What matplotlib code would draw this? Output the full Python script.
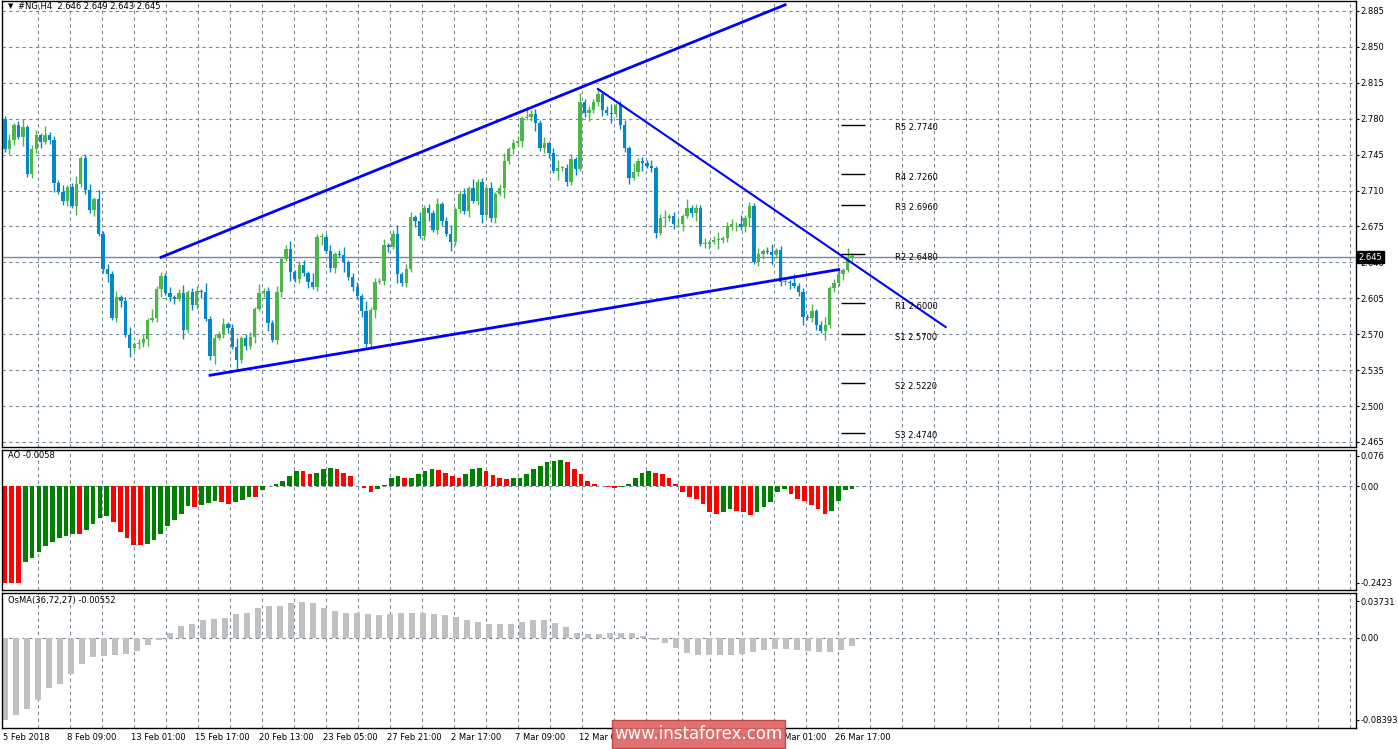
import matplotlib
matplotlib.use("Agg")
import matplotlib.pyplot as plt
import numpy as np

# closes of H4 candles
closes = [2.750, 2.759, 2.774, 2.762, 2.772, 2.726, 2.750, 2.764, 2.757, 2.764, 2.759, 2.717,
          2.709, 2.700, 2.713, 2.695, 2.716, 2.742, 2.711, 2.691, 2.702, 2.668, 2.634, 2.629,
          2.586, 2.606, 2.602, 2.569, 2.557, 2.560, 2.561, 2.565, 2.584, 2.586, 2.614, 2.627,
          2.610, 2.606, 2.604, 2.610, 2.574, 2.611, 2.598, 2.612, 2.611, 2.585, 2.549, 2.566,
          2.570, 2.580, 2.576, 2.558, 2.545, 2.566, 2.559, 2.567, 2.595, 2.610, 2.612, 2.581,
          2.564, 2.611, 2.643, 2.653, 2.631, 2.624, 2.637, 2.630, 2.621, 2.616, 2.665, 2.665,
          2.651, 2.635, 2.648, 2.647, 2.640, 2.626, 2.616, 2.607, 2.593, 2.560, 2.594, 2.621,
          2.622, 2.657, 2.655,
          2.668, 2.629, 2.620, 2.634, 2.684, 2.680, 2.666, 2.693, 2.688, 2.672, 2.697, 2.680,
          2.668, 2.660, 2.692, 2.707, 2.690, 2.712, 2.700, 2.718, 2.686, 2.712, 2.683, 2.707,
          2.712, 2.739, 2.750, 2.756, 2.758, 2.781, 2.782, 2.785, 2.776, 2.751, 2.756, 2.747,
          2.729, 2.732, 2.732, 2.718, 2.741, 2.731, 2.796, 2.786, 2.788, 2.796, 2.804, 2.788,
          2.786, 2.785, 2.793, 2.774, 2.751, 2.722, 2.728, 2.739, 2.737, 2.734, 2.732, 2.669,
          2.683, 2.683, 2.685, 2.677, 2.677, 2.685, 2.693, 2.688, 2.693, 2.658, 2.658, 2.660,
          2.662, 2.662, 2.664, 2.675, 2.677, 2.677, 2.674, 2.683, 2.695, 2.640, 2.648, 2.651,
          2.650, 2.647, 2.652, 2.621, 2.621, 2.620, 2.617, 2.611, 2.587, 2.586, 2.593, 2.579,
          2.573, 2.579, 2.615, 2.620, 2.629, 2.633, 2.645, 2.646]
first_open = 2.780
wick = [0.003, 0.006, 0.002, 0.004, 0.008, 0.002, 0.004, 0.005, 0.002, 0.009, 0.003, 0.004]

ao = [-0.242, -0.242, -0.242, -0.19, -0.18, -0.165, -0.15, -0.14, -0.13, -0.125, -0.12, -0.12,
      -0.11, -0.095, -0.08, -0.075, -0.09, -0.115, -0.13, -0.147, -0.147, -0.145, -0.135, -0.12,
      -0.10, -0.085, -0.07, -0.05, -0.052, -0.048, -0.043, -0.036, -0.040, -0.044, -0.040, -0.034,
      -0.028, -0.028, -0.01, 0.0, 0.006, 0.014, 0.027, 0.039, 0.039, 0.030, 0.034, 0.043, 0.047,
      0.043, 0.034, 0.027, 0.0, -0.004, -0.015, -0.007, 0.004, 0.022, 0.027, 0.020, 0.022, 0.030,
      0.039, 0.043, 0.041, 0.034, 0.027, 0.022, 0.030, 0.043, 0.045, 0.039, 0.028, 0.022, 0.018,
      0.020, 0.022, 0.030, 0.043, 0.052, 0.060, 0.064, 0.067, 0.060, 0.043, 0.030, 0.013, 0.005,
      0.0, -0.003, -0.005, -0.003, 0.005, 0.022, 0.034, 0.039, 0.034, 0.030, 0.022, 0.005, -0.015,
      -0.028, -0.032, -0.045, -0.065, -0.070, -0.065, -0.057, -0.061, -0.065, -0.072, -0.065,
      -0.052, -0.040, -0.015, -0.007, -0.020, -0.032, -0.036, -0.048, -0.057, -0.070, -0.061,
      -0.036, -0.010, -0.006]

osma = [-0.0839, -0.079, -0.073, -0.064, -0.052, -0.047, -0.037, -0.027, -0.020, -0.019, -0.018,
        -0.017, -0.014, -0.007, -0.002, 0.005, 0.012, 0.014, 0.018, 0.019, 0.020, 0.024, 0.025,
        0.031, 0.033, 0.033, 0.036, 0.037, 0.036, 0.031, 0.027, 0.025, 0.025, 0.024, 0.023, 0.024,
        0.025, 0.025, 0.025, 0.024, 0.023, 0.021, 0.018, 0.016, 0.014, 0.014, 0.014, 0.016, 0.018,
        0.018, 0.015, 0.011, 0.005, 0.004, 0.004, 0.005, 0.005, 0.005, 0.002, -0.002, -0.005,
        -0.010, -0.016, -0.018, -0.018, -0.018, -0.018, -0.017, -0.015, -0.013, -0.012, -0.012,
        -0.013, -0.014, -0.015, -0.015, -0.013, -0.008]

pivot_names = ["R5", "R4", "R3", "R2", "R1", "S1", "S2", "S3"]
pivot_vals = [2.774, 2.726, 2.696, 2.648, 2.600, 2.570, 2.522, 2.474]

date_labels = ["5 Feb 2018", "8 Feb 09:00", "13 Feb 01:00", "15 Feb 17:00", "20 Feb 13:00",
               "23 Feb 05:00", "27 Feb 21:00", "2 Mar 17:00", "7 Mar 09:00", "12 Mar 01:00",
               "14 Mar 17:00", "19 Mar 09:00", "22 Mar 01:00", "26 Mar 17:00"]

W, H = 1398, 749
BULL, BEAR = "#4cb648", "#0288c8"
GRID = dict(color="#778899", linestyle=(0, (3, 3)), linewidth=0.8)
FS = 6
PW = 1354

n = len(closes)
step = 847 / (n - 1)
def xpix(i):
    return 3 + np.asarray(i) * step

fig = plt.figure(figsize=(W / 100, H / 100), dpi=100)

def panel(top, bottom):
    ax = fig.add_axes([2 / W, 1 - bottom / H, PW / W, (bottom - top) / H])
    ax.set_xlim(0, PW)
    ax.yaxis.tick_right()
    ax.tick_params(axis="y", labelsize=FS, length=2, pad=1)
    ax.set_xticks([])
    for s in ax.spines.values():
        s.set_linewidth(1)
    for gx in np.arange(35.5, PW, 32):
        ax.axvline(gx, zorder=0, **GRID)
    return ax

# ---- main price panel
ax = panel(1, 447)
ax.set_ylim(2.4601, 2.8947)
yt = np.round(np.arange(2.465, 2.886, 0.035), 3)
ax.set_yticks(yt)
ax.set_yticklabels([f"{v:.3f}" for v in yt])
for v in yt:
    ax.axhline(v, zorder=0, **GRID)

opens = [first_open] + closes[:-1]
xs = xpix(np.arange(n))
for k, (x, o, c) in enumerate(zip(xs, opens, closes)):
    col = BULL if c >= o else BEAR
    hi = max(o, c) + wick[k % len(wick)]
    lo = min(o, c) - wick[(k + 5) % len(wick)]
    ax.vlines(x, lo, hi, color=col, linewidth=1, zorder=2)
    ax.bar(x, max(abs(c - o), 0.0008), bottom=min(o, c), width=step * 0.75,
           color=col, linewidth=0, zorder=3)

# trend lines (anchored on candle indexes)
ax.plot(xpix([35, 175]), [2.645, 2.891], color="#0000ff", lw=2, zorder=4)
ax.plot(xpix([46, 187]), [2.530, 2.633], color="#0000ff", lw=2, zorder=4)
ax.plot(xpix([133, 211]), [2.809, 2.577], color="#0000ff", lw=1.5, zorder=4)

# pivot levels
for name, v in zip(pivot_names, pivot_vals):
    ax.hlines(v, 839, 863, color="black", lw=1, zorder=4)
    ax.text(893, v - 0.003, f"{name} {v:.4f}", fontsize=FS, va="center", zorder=5)

# current price
ax.axhline(2.645, color="#778899", lw=1, zorder=1)
ax.annotate("2.645", xy=(1.002, 2.645), xycoords=("axes fraction", "data"),
            fontsize=FS, color="white", va="center", ha="left",
            bbox=dict(boxstyle="square,pad=0.2", fc="black", ec="black"), zorder=6,
            annotation_clip=False)
ax.text(6, 2.8895, "\u25bc", fontsize=5, va="center")
ax.text(16, 2.8895, "#NG,H4  2.646 2.649 2.643 2.645", fontsize=FS, va="center")

# ---- AO panel
ax2 = panel(450, 590)
ax2.set_ylim(-0.26, 0.091)
ax2.set_yticks([0.076, 0.0, -0.2423])
ax2.set_yticklabels(["0.076", "0.00", "-0.2423"])
ax2.axhline(0, zorder=0, **GRID)
ao_x = 3 + np.arange(len(ao)) * 847 / (len(ao) - 1)
ao_cols = ["#ff0000"] + ["#008000" if b > a else "#ff0000" for a, b in zip(ao[:-1], ao[1:])]
ax2.bar(ao_x, ao, width=847 / len(ao) * 0.7, color=ao_cols, linewidth=0, zorder=2)
ax2.text(6, 0.076, "AO -0.0058", fontsize=FS, va="center")

# ---- OsMA panel
ax3 = panel(593, 728)
ax3.set_ylim(-0.0925, 0.0459)
ax3.set_yticks([0.03731, 0.0, -0.08393])
ax3.set_yticklabels(["0.03731", "0.00", "-0.08393"])
ax3.axhline(0, zorder=0, **GRID)
os_x = 3 + np.arange(len(osma)) * 847 / (len(osma) - 1)
ax3.bar(os_x, osma, width=847 / len(osma) * 0.55, color="#c0c0c0", linewidth=0, zorder=2)
ax3.text(6, 0.0385, "OsMA(36,72,27) -0.00552", fontsize=FS, va="center")

# time labels
for k, lab in enumerate(date_labels):
    fig.text((3 + k * 64) / W, 1 - 737 / H, lab, fontsize=FS, va="center", ha="left")

# watermark
fig.patches.append(plt.Rectangle((612 / W, 1 - 748 / H), 173 / W, 28 / H,
                                 transform=fig.transFigure, fc="#e06666", ec="#c04040",
                                 alpha=0.92, zorder=10))
fig.text(698 / W, 1 - 734 / H, "www.instaforex.com", fontsize=12, color="white",
         ha="center", va="center", zorder=11)

fig.savefig("out.png", dpi=100)
